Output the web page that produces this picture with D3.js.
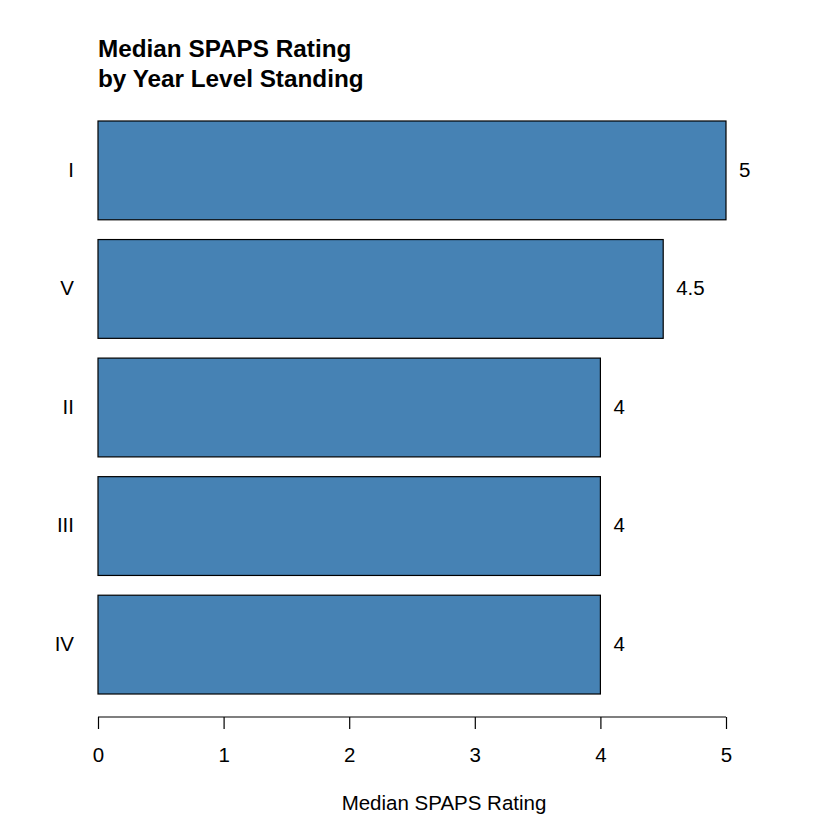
<!DOCTYPE html>
<html><head><meta charset="utf-8">
<script src="https://cdn.jsdelivr.net/npm/d3@7"></script>
<style>body{margin:0;background:#fff}svg{display:block}</style>
</head><body>
<script>
const categories = ["I","V","II","III","IV"];
const values = [5, 4.5, 4, 4, 4];
const valueLabels = ["5","4.5","4","4","4"];
const xTicks = [0,1,2,3,4,5];
const titleLines = ["Median SPAPS Rating","by Year Level Standing"];
const xTitle = "Median SPAPS Rating";

const W=840,H=840;
const FONT="'Liberation Sans', Arial, Helvetica, sans-serif";
const svg=d3.select("body").append("svg").attr("width",W).attr("height",H)
  .style("font-family",FONT);
const x=d3.scaleLinear().domain([0,5]).range([98,726]);
const y=d3.scaleBand().domain(categories).range([121,694]).paddingInner(1/6).paddingOuter(0);

svg.selectAll("rect.bar").data(categories).enter().append("rect")
  .attr("x",x(0)).attr("y",d=>y(d))
  .attr("width",(d,i)=>x(values[i])-x(0)).attr("height",y.bandwidth())
  .attr("fill","#4682B4").attr("stroke","#000").attr("stroke-width",1.2);

svg.selectAll("text.cat").data(categories).enter().append("text")
  .attr("x",74).attr("y",d=>y(d)+y.bandwidth()/2).attr("dy","0.3em")
  .attr("text-anchor","end").attr("font-size",20.5).text(d=>d);

svg.selectAll("text.val").data(categories).enter().append("text")
  .attr("x",(d,i)=>x(values[i])+13).attr("y",d=>y(d)+y.bandwidth()/2).attr("dy","0.3em")
  .attr("font-size",20.5).text((d,i)=>valueLabels[i]);

const ax=svg.append("g").attr("transform","translate(0,717)")
  .call(d3.axisBottom(x).tickValues(xTicks).tickFormat(d3.format("d")).tickSize(12).tickPadding(18));
ax.select(".domain").attr("stroke","#000").attr("stroke-width",1.2).attr("d",`M${x(0)},0H${x(5)}`);
ax.selectAll(".tick line").attr("stroke","#000").attr("stroke-width",1.2);
ax.selectAll(".tick text").attr("font-size",20.5).attr("fill","#000").style("font-family",FONT);

svg.append("text").attr("x",444).attr("y",810).attr("text-anchor","middle")
  .attr("font-size",20.5).text(xTitle);

svg.selectAll("text.title").data(titleLines).enter().append("text")
  .attr("x",98).attr("y",(d,i)=>57+i*30).attr("font-size",24.3).attr("font-weight","bold").text(d=>d);
</script>
</body></html>
